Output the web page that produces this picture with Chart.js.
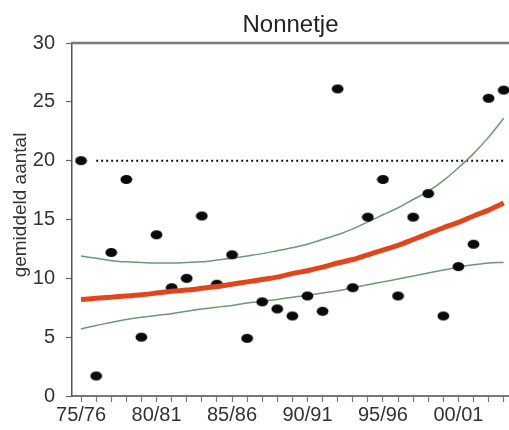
<!DOCTYPE html>
<html>
<head>
<meta charset="utf-8">
<script src="https://cdn.jsdelivr.net/npm/chart.js@4"></script>
<style>
  html, body { margin: 0; padding: 0; background: #fff; }
  #wrap { width: 509px; height: 430px; }
</style>
</head>
<body>
<div id="wrap"><canvas id="chart" width="509" height="430"></canvas></div>
<script>
// seizoenen 75/76 t/m 03/04
const seasons = ['75/76', '76/77', '77/78', '78/79', '79/80', '80/81', '81/82', '82/83', '83/84', '84/85',
  '85/86', '86/87', '87/88', '88/89', '89/90', '90/91', '91/92', '92/93', '93/94', '94/95',
  '95/96', '96/97', '97/98', '98/99', '99/00', '00/01', '01/02', '02/03', '03/04'];
const counts = [20.0, 1.7, 12.2, 18.4, 5.0, 13.7, 9.2, 10.0, 15.3, 9.5,
  12.0, 4.9, 8.0, 7.4, 6.8, 8.5, 7.2, 26.1, 9.2, 15.2,
  18.4, 8.5, 15.2, 17.2, 6.8, 11.0, 12.9, 25.3, 26.0];
// trendlijn
const trend = [8.2, 8.3, 8.4, 8.5, 8.6, 8.75, 8.9, 9.0, 9.15, 9.3,
  9.5, 9.7, 9.9, 10.1, 10.4, 10.65, 10.95, 11.3, 11.6, 12.0,
  12.4, 12.8, 13.3, 13.8, 14.3, 14.75, 15.3, 15.8, 16.4];
// betrouwbaarheidsband
const upper = [11.9, 11.7, 11.5, 11.4, 11.35, 11.3, 11.3, 11.35, 11.4, 11.55,
  11.7, 11.9, 12.1, 12.35, 12.6, 12.9, 13.3, 13.7, 14.2, 14.8,
  15.4, 16.0, 16.7, 17.4, 18.3, 19.4, 20.6, 22.0, 23.6];
const lower = [5.7, 6.0, 6.25, 6.5, 6.7, 6.85, 7.0, 7.2, 7.4, 7.55,
  7.7, 7.9, 8.05, 8.2, 8.4, 8.55, 8.75, 8.95, 9.2, 9.45,
  9.7, 9.95, 10.2, 10.45, 10.7, 10.95, 11.15, 11.3, 11.35];
const refLevel = 20;
const yTicks = [0, 5, 10, 15, 20, 25, 30];
const chartTitle = 'Nonnetje';
const yTitle = 'gemiddeld aantal';

const FONT = '"Liberation Sans", Arial, sans-serif';
const pts = arr => arr.map((v, i) => ({x: i, y: v}));

// ovale stip
const dot = document.createElement('canvas');
dot.width = 13; dot.height = 11;
(() => {
  const c = dot.getContext('2d');
  c.fillStyle = '#0a0a0a';
  c.beginPath(); c.ellipse(6.5, 5.5, 5.9, 4.6, 0, 0, Math.PI * 2); c.fill();
})();

const frameAndTitles = {
  id: 'frameAndTitles',
  afterDraw(chart) {
    const {ctx, chartArea: a} = chart;
    ctx.save();
    ctx.strokeStyle = '#7a7a7a';
    ctx.lineWidth = 2.5;
    ctx.beginPath(); ctx.moveTo(a.left - 1, a.top); ctx.lineTo(a.right, a.top); ctx.stroke();
    ctx.fillStyle = '#222';
    ctx.font = '24px ' + FONT;
    ctx.textAlign = 'center';
    ctx.textBaseline = 'alphabetic';
    ctx.fillText(chartTitle, (a.left + a.right) / 2, 32);
    ctx.translate(21, 205);
    ctx.rotate(-Math.PI / 2);
    ctx.font = '19px ' + FONT;
    ctx.fillStyle = '#333';
    ctx.textBaseline = 'middle';
    ctx.fillText(yTitle, 0, 0);
    ctx.restore();
  }
};

new Chart(document.getElementById('chart'), {
  type: 'scatter',
  data: {
    datasets: [
      {data: pts(trend), showLine: true, borderColor: '#e2441c', borderWidth: 5, pointRadius: 0, tension: 0.3, order: 0},
      {data: pts(counts), pointStyle: dot, pointRadius: 6, order: 1},
      {data: pts(upper), showLine: true, borderColor: '#6c9a70', borderWidth: 1.5, pointRadius: 0, tension: 0.3, order: 2},
      {data: pts(lower), showLine: true, borderColor: '#6c9a70', borderWidth: 1.5, pointRadius: 0, tension: 0.3, order: 2},
      {data: seasons.slice(1).map((s, i) => ({x: i + 1, y: refLevel})), showLine: true, borderColor: '#111',
       borderWidth: 2, borderDash: [2, 3], pointRadius: 0, order: 3}
    ]
  },
  options: {
    responsive: false,
    animation: false,
    layout: {autoPadding: false, padding: {top: 43, left: 0, right: 0, bottom: 0}},
    plugins: {legend: {display: false}, tooltip: {enabled: false}},
    scales: {
      x: {
        type: 'linear', min: -0.6, max: 28.35,
        afterBuildTicks: s => { s.ticks = seasons.map((_, i) => ({value: i})); },
        afterFit: s => { s.height = 34; },
        ticks: {autoSkip: false, maxRotation: 0, padding: 1, color: '#333', font: {family: FONT, size: 20},
                callback: v => (v % 5 === 0 ? seasons[v] : '')},
        grid: {drawOnChartArea: false, tickLength: 6, tickColor: '#777', tickWidth: 1.2},
        border: {color: '#777', width: 2}
      },
      y: {
        min: 0, max: 30,
        afterBuildTicks: s => { s.ticks = yTicks.map(v => ({value: v})); },
        afterFit: s => { s.width = 72; },
        ticks: {padding: 11, color: '#333', font: {family: FONT, size: 20}},
        grid: {drawOnChartArea: false, tickLength: 6, tickColor: '#666', tickWidth: 1.2},
        border: {color: '#555', width: 1.5}
      }
    }
  },
  plugins: [frameAndTitles]
});
</script>
</body>
</html>
